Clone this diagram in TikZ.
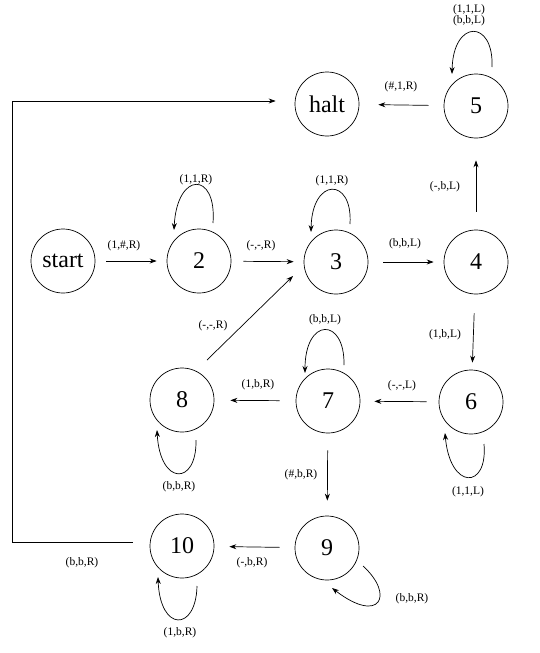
\documentclass[tikz,border=0pt]{standalone}
\usepackage{fontspec}
\setmainfont{Liberation Serif}
\usetikzlibrary{arrows.meta}
\begin{document}
\begin{tikzpicture}[x=1pt,y=-1pt,
  state/.style={draw,circle,minimum size=64pt,inner sep=0pt,line width=0.7pt,font=\fontsize{24}{24}\selectfont},
  arr/.style={line width=0.7pt,-{Stealth[length=7pt,width=5pt]}},
  lbl/.style={font=\fontsize{11.5}{12}\selectfont,inner sep=0pt}]
\useasboundingbox (0,0) rectangle (540,653);
% states
\node[state] (start) at (63,261) {start};
\node[state] (n2) at (199,261) {2};
\node[state] (n3) at (336,262) {3};
\node[state] (n4) at (476,262) {4};
\node[state] (n5) at (476,106) {5};
\node[state] (halt) at (327,104) {halt};
\node[state] (n6) at (471,402) {6};
\node[state] (n7) at (328,401) {7};
\node[state] (n8) at (182,400) {8};
\node[state] (n9) at (327,548) {9};
\node[state] (n10) at (182,546) {10};
% straight transitions
\draw[arr,shorten <=11pt,shorten >=10pt] (start) -- (n2);
\draw[arr,shorten <=12pt,shorten >=10pt] (n2) -- (n3);
\draw[arr,shorten <=15pt,shorten >=10pt] (n3) -- (n4);
\draw[arr,shorten <=18pt,shorten >=22pt] (n4) -- (n5);
\draw[arr,shorten <=15pt,shorten >=19pt] (n5) -- (halt);
\draw[arr,shorten <=19pt,shorten >=7pt] (n4) -- (n6);
\draw[arr,shorten <=12pt,shorten >=14pt] (n6) -- (n7);
\draw[arr,shorten <=16pt,shorten >=16pt] (n7) -- (n8);
\draw[arr,shorten <=17pt,shorten >=15pt] (n7) -- (n9);
\draw[arr,shorten <=15pt,shorten >=15pt] (n9) -- (n10);
\draw[arr] ([shift={(25,-40)}]n8.center) -- ([shift={(-43,14)}]n3.center);
\coordinate (cB) at (12,101);
\draw[arr] ([xshift=-17pt,yshift=4pt]n10.west) -| (cB) -- ([xshift=-19pt,yshift=3pt]halt.west);
% self loops
\begin{scope}[shift={(n2.center)}]
  \draw[arr] (14,-38) .. controls (18,-90) and (-22,-90) .. (-25,-31);
\end{scope}
\begin{scope}[shift={(n3.center)}]
  \draw[arr] (14,-38) .. controls (17,-85) and (-24,-85) .. (-25,-30);
\end{scope}
\begin{scope}[shift={(n5.center)}]
  \draw[arr] (16,-39) .. controls (18,-87) and (-23,-87) .. (-24,-32);
\end{scope}
\begin{scope}[shift={(n7.center)}]
  \draw[arr] (16,-36) .. controls (17,-84) and (-23,-84) .. (-23,-28);
\end{scope}
\begin{scope}[shift={(n8.center)}]
  \draw[arr] (14,40) .. controls (15,86) and (-22,86) .. (-25,30);
\end{scope}
\begin{scope}[shift={(n6.center)}]
  \draw[arr] (13,42) .. controls (17,88) and (-21,88) .. (-26,31);
\end{scope}
\begin{scope}[shift={(n10.center)}]
  \draw[arr] (15,40) .. controls (14,86) and (-22,86) .. (-24,31);
\end{scope}
\begin{scope}[shift={(n9.center)}]
  \draw[arr] (36,18) .. controls (68,47) and (53,77) .. (5,40);
\end{scope}
% labels
\node[lbl] (l1) at (124,246) {(1,\#,R)};
\node[lbl] (l2) at (261,246) {(-,-,R)};
\node[lbl] (l3) at (405,244) {(b,b,L)};
\node[lbl] (l4) at (445,187) {(-,b,L)};
\node[lbl] (l5) at (401,87) {(\#,1,R)};
\node[lbl] (l6a) at (469,10) {(1,1,L)};
\node[lbl] (l6b) at (469,21) {(b,b,L)};
\node[lbl] (l7) at (196,180) {(1,1,R)};
\node[lbl] (l8) at (332,181) {(1,1,R)};
\node[lbl] (l9) at (445,335) {(1,b,L)};
\node[lbl] (l10) at (402,386) {(-,-,L)};
\node[lbl] (l11) at (258,385) {(1,b,R)};
\node[lbl] (l12) at (213,326) {(-,-,R)};
\node[lbl] (l13) at (325,320) {(b,b,L)};
\node[lbl] (l14) at (179,487) {(b,b,R)};
\node[lbl] (l15) at (301,475) {(\#,b,R)};
\node[lbl] (l16) at (468,492) {(1,1,L)};
\node[lbl] (l17) at (82,563) {(b,b,R)};
\node[lbl] (l18) at (252,563) {(-,b,R)};
\node[lbl] (l19) at (180,633) {(1,b,R)};
\node[lbl] (l20) at (412,599) {(b,b,R)};
\end{tikzpicture}
\end{document}
